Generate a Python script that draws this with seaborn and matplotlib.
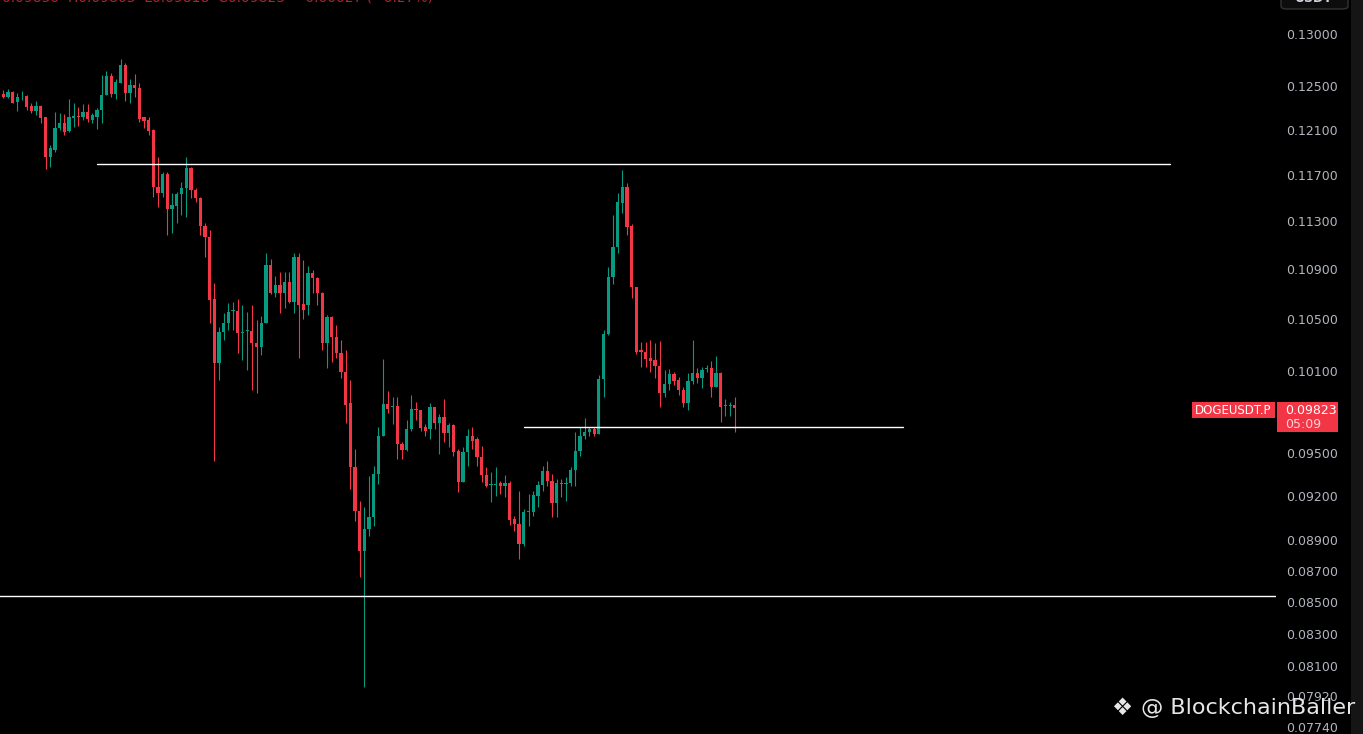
import numpy as np
import pandas as pd
import matplotlib
matplotlib.use("Agg")
import matplotlib.pyplot as plt
import seaborn as sns
from matplotlib.patches import Rectangle, FancyBboxPatch

# --- candle data (DOGEUSDT.P) ---
opens = [
    .12429, .12401, .12448, .12355, .12398, .12410, .12318, .12273, .12318, .12218,
    .11857, .11920, .12118, .12163, .12090, .12209, .12222, .12218, .12264, .12190,
    .12218, .12282, .12420, .12598, .12429, .12532, .12702, .12438, .12514, .12485,
    .12218, .12190, .12099, .11594, .11543, .11708, .11405, .11431, .11534, .11586,
    .11760, .11568, .11499, .11261, .11169, .10663, .10166, .10404, .10474, .10564,
    .10568, .10392, .10408, .10411, .10319, .10288, .10474, .10938, .10711, .10775,
    .10711, .10799, .10639, .11003, .10623, .10615, .10872, .10832, .10711, .10319,
    .10520, .10365, .10242, .10097, .09866, .09399, .09096, .08827, .08974, .09055,
    .09350, .09619, .09859, .09834, .09844, .09562, .09519, .09670, .09818, .09808,
    .09684, .09670, .09830, .09713, .09757, .09641, .09699, .09512, .09294, .09505,
    .09619, .09598, .09470, .09343, .09276, .09277, .09287, .09266, .09287, .09041,
    .09007, .08873, .09092, .09089, .09198, .09273, .09371, .09301, .09150, .09290,
    .09284, .09287, .09378, .09512, .09619, .09648, .09670, .09634, .10044, .10388,
    .10840, .11086, .11456, .11594, .11261, .10759, .10265, .10249, .10203, .10188,
    .10143, .09940, .10007, .10082, .10037, .09963, .09866, .10029, .10090, .10052,
    .10116, .10128, .09985, .10090, .09840, .09842, .09848,
]
highs = [
    .12466, .12476, .12457, .12438, .12457, .12420, .12346, .12364, .12328, .12218,
    .11964, .12264, .12254, .12245, .12383, .12346, .12309, .12337, .12337, .12254,
    .12300, .12608, .12645, .12626, .12570, .12759, .12721, .12570, .12617, .12532,
    .12218, .12218, .12109, .11857, .11725, .11725, .11543, .11551, .11637, .11857,
    .11769, .11586, .11508, .11286, .11228, .10791, .10443, .10552, .10631, .10639,
    .10663, .10615, .10560, .10615, .10497, .10528, .11036, .10987, .10848, .10880,
    .10880, .10880, .11036, .11036, .10979, .10929, .10896, .10840, .10719, .10536,
    .10528, .10458, .10342, .10265, .10037, .09526, .09164, .09123, .09336, .09406,
    .09684, .10196, .09955, .09904, .09904, .09576, .09742, .09926, .09874, .09815,
    .09706, .09866, .09837, .09779, .09889, .09720, .09706, .09526, .09541, .09670,
    .09684, .09612, .09548, .09399, .09364, .09399, .09301, .09343, .09301, .09062,
    .09232, .09109, .09211, .09232, .09301, .09406, .09441, .09350, .09315, .09315,
    .09329, .09399, .09648, .09684, .09750, .09691, .09691, .10074, .10419, .10921,
    .11355, .11543, .11743, .11629, .11278, .10759, .10326, .10326, .10342, .10319,
    .10334, .10112, .10120, .10097, .10059, .09985, .10090, .10342, .10128, .10135,
    .10150, .10181, .10219, .10097, .09896, .09874, .09911,
]
lows = [
    .12392, .12392, .12346, .12273, .12374, .12282, .12254, .12236, .12163, .11751,
    .11769, .11902, .12099, .12054, .12081, .12127, .12136, .12190, .12172, .12163,
    .12109, .12163, .12420, .12401, .12383, .12532, .12364, .12346, .12401, .12172,
    .12118, .12054, .11508, .11422, .11508, .11186, .11202, .11286, .11355, .11338,
    .11499, .11465, .11186, .11003, .10474, .09441, .10037, .10342, .10419, .10419,
    .10242, .10188, .10112, .09963, .09940, .10226, .10474, .10703, .10679, .10552,
    .10591, .10631, .10552, .10203, .10505, .10536, .10711, .10615, .10265, .10128,
    .10173, .10203, .10052, .09720, .09246, .09028, .08658, .07974, .08927, .08994,
    .09280, .09619, .09793, .09706, .09455, .09455, .09512, .09655, .09742, .09655,
    .09619, .09598, .09670, .09491, .09576, .09541, .09477, .09225, .09294, .09406,
    .09526, .09406, .09294, .09259, .09157, .09198, .09211, .09191, .09001, .08960,
    .08775, .08860, .08994, .09062, .09123, .09232, .09266, .09055, .09055, .09191,
    .09164, .09266, .09266, .09477, .09598, .09619, .09619, .09634, .09904, .10380,
    .10783, .11036, .11372, .11186, .10671, .10234, .10135, .10135, .10097, .10052,
    .09830, .09911, .09963, .10000, .09926, .09837, .09808, .10007, .10015, .09978,
    .10097, .09904, .09985, .09727, .09771, .09764, .09648,
]
closes = [
    .12401, .12448, .12346, .12401, .12404, .12309, .12273, .12318, .12209, .11857,
    .11937, .12118, .12163, .12081, .12218, .12227, .12214, .12264, .12199, .12236,
    .12282, .12420, .12598, .12429, .12542, .12702, .12438, .12514, .12485, .12199,
    .12181, .12090, .11594, .11543, .11708, .11405, .11439, .11534, .11586, .11760,
    .11568, .11499, .11261, .11169, .10655, .10166, .10404, .10474, .10560, .10572,
    .10396, .10400, .10415, .10319, .10288, .10474, .10938, .10711, .10775, .10711,
    .10799, .10639, .11003, .10615, .10576, .10872, .10832, .10711, .10319, .10520,
    .10365, .10242, .10097, .09852, .09399, .09096, .08827, .08974, .09055, .09350,
    .09619, .09859, .09822, .09841, .09562, .09519, .09670, .09822, .09811, .09677,
    .09662, .09830, .09713, .09757, .09641, .09699, .09505, .09294, .09505, .09619,
    .09590, .09470, .09343, .09266, .09284, .09285, .09266, .09287, .09034, .09007,
    .08873, .09089, .09099, .09204, .09273, .09371, .09301, .09150, .09287, .09284,
    .09290, .09378, .09512, .09619, .09648, .09670, .09634, .10044, .10388, .10840,
    .11086, .11465, .11594, .11253, .10759, .10249, .10249, .10196, .10181, .10143,
    .09940, .10007, .10082, .10029, .09963, .09866, .10029, .10090, .10052, .10112,
    .10122, .09985, .10090, .09837, .09848, .09850, .09823,
]

# horizontal levels drawn on the chart (price, first candle, last candle)
level_prices = [0.11795, 0.09686, 0.08536]
level_start = [20.0, 111.0, -1.0]
level_end = [248.8, 191.9, 272.0]

tick_values = [0.13, 0.125, 0.121, 0.117, 0.113, 0.109, 0.105, 0.101,
               0.095, 0.092, 0.089, 0.087, 0.085, 0.083, 0.081, 0.0792, 0.0774]
last_price = "0.09823"
countdown = "05:09"
symbol = "DOGEUSDT.P"

GREEN = "#089981"
RED = "#f23645"

assert len(opens) == len(highs) == len(lows) == len(closes)

sns.set_style("dark", {"axes.facecolor": "black", "figure.facecolor": "black"})
plt.rcParams["font.family"] = ["DejaVu Sans"]

df = pd.DataFrame({"open": opens, "high": highs, "low": lows, "close": closes})
df["idx"] = np.arange(len(df))
df["color"] = np.where(df["close"] >= df["open"], GREEN, RED)
df["body_lo"] = df[["open", "close"]].min(axis=1)
df["body_h"] = np.maximum((df["close"] - df["open"]).abs(), 0.00006)

W, H = 1363, 734
fig = plt.figure(figsize=(W / 100, H / 100), dpi=100, facecolor="black")
ax = fig.add_axes([0, 0, 1276 / W, 1])
ax.set_facecolor("black")
ax.set_yscale("log")

# wicks + bodies
ax.vlines(df["idx"], df["low"], df["high"], colors=df["color"], linewidth=0.8, zorder=2)
ax.bar(df["idx"], df["body_h"], bottom=df["body_lo"], width=0.7,
       color=df["color"], linewidth=0, zorder=3)

# level lines with seaborn
lv = pd.DataFrame({
    "x": [v for s, e in zip(level_start, level_end) for v in (s, e)],
    "y": [p for p in level_prices for _ in range(2)],
    "line": [i for i in range(len(level_prices)) for _ in range(2)],
})
sns.lineplot(data=lv, x="x", y="y", units="line", estimator=None, color="white",
             linewidth=1.0, ax=ax, legend=False, zorder=4)

ax.set_xlim(-0.704, 271.4)
ax.set_ylim(0.07699, 0.13335)
ax.set_xticks([])
ax.set_xlabel("")
ax.set_ylabel("")
ax.yaxis.tick_right()
ax.yaxis.set_minor_locator(matplotlib.ticker.NullLocator())
ax.set_yticks(tick_values)
ax.set_yticklabels([f"{v:.5f}" for v in tick_values])
ax.tick_params(axis="y", length=0, pad=7, labelsize=9, labelcolor="#b2b5be")
ax.grid(False)
for s in ax.spines.values():
    s.set_visible(False)


def fx(x):
    return x / W


def fy(y):
    return 1 - y / H


# right edge strip
fig.add_artist(Rectangle((fx(1351), 0), fx(12), 1, transform=fig.transFigure,
                         facecolor="#151515", edgecolor="none", zorder=1))

# symbol + last price boxes
fig.add_artist(Rectangle((fx(1192), fy(418)), fx(83), 16 / H, transform=fig.transFigure,
                         facecolor=RED, edgecolor="none", zorder=5))
fig.text(fx(1233), fy(410), symbol, color="white", fontsize=8.5,
         ha="center", va="center", zorder=6)
fig.add_artist(Rectangle((fx(1277), fy(432)), fx(61), 30 / H, transform=fig.transFigure,
                         facecolor=RED, edgecolor="none", zorder=5))
fig.text(fx(1285), fy(410), last_price, color="white", fontsize=9,
         ha="left", va="center", zorder=6)
fig.text(fx(1285), fy(424), countdown, color="#ffd3d8", fontsize=9,
         ha="left", va="center", zorder=6)

# currency box, cut at the top
fig.add_artist(FancyBboxPatch((fx(1281), fy(9)), fx(67), 20 / H, transform=fig.transFigure,
                              boxstyle="round,pad=0,rounding_size=0.004",
                              facecolor="#0d0d0d", edgecolor="#333333", linewidth=1, zorder=5))
fig.text(fx(1314), fy(-2), "USDT", color="#d1d4dc", fontsize=9, fontweight="bold",
         ha="center", va="center", zorder=6)

# legend line cut at the top
fig.text(fx(2), fy(-2.5), "0.09850  H0.09863  L0.09818  C0.09823  \u22120.00027 (\u22120.27%)",
         color=RED, alpha=0.7, fontsize=10, ha="left", va="center")

# watermark
fig.text(fx(1122), fy(708), "\u2756", color="#e6e6e6", fontsize=17,
         ha="center", va="center", zorder=7)
fig.text(fx(1141), fy(708), "@ BlockchainBaller", color="#e6e6e6", fontsize=16,
         ha="left", va="center", zorder=7)

fig.savefig("out.png", dpi=100, facecolor="black")
